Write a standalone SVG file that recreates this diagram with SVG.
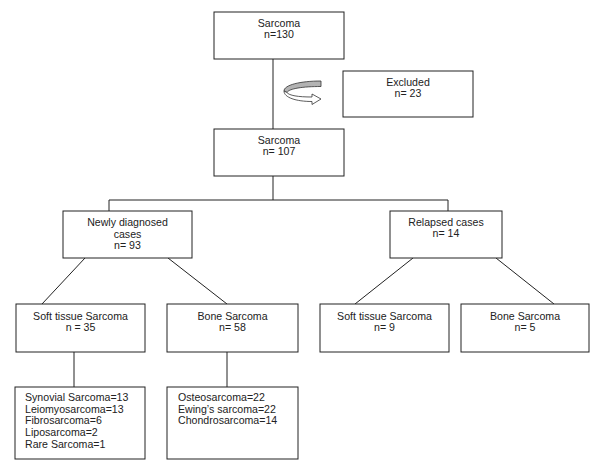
<svg xmlns="http://www.w3.org/2000/svg" width="600" height="470" viewBox="0 0 600 470">
<style>
.box{fill:#fff;stroke:#222;stroke-width:1}
.ln{fill:none;stroke:#222;stroke-width:1}
text{font-family:"Liberation Sans",Arial,sans-serif;font-size:10.6px;fill:#222}
.c{text-anchor:middle}
</style>
<rect width="600" height="470" fill="#fff"/>
<g id="connectors">
<line class="ln" x1="273" y1="59" x2="273" y2="129"/>
<line class="ln" x1="273" y1="176" x2="273" y2="200"/>
<polyline class="ln" points="109,211 109,200 448,200 448,211"/>
<line class="ln" x1="85" y1="258" x2="42" y2="304"/>
<line class="ln" x1="168" y1="258" x2="227" y2="304"/>
<line class="ln" x1="413" y1="258" x2="355" y2="304"/>
<line class="ln" x1="496" y1="258" x2="554" y2="304"/>
<line class="ln" x1="74" y1="352" x2="74" y2="387"/>
<line class="ln" x1="227" y1="352" x2="227" y2="387"/>
<g id="curved-arrow">
<path d="M321 81 C300 81 284 85 284 91 L287 92.5 C289 88.5 303 86.5 321 86.5 Z" fill="#b3b3b3" stroke="#333" stroke-width="0.8"/>
<path d="M284 91 C284 97.5 296 101.5 312 101.5 L312 104.5 L321 99 L312 94 L312 97 C298 97 289 95.5 287 92.5 Z" fill="#fff" stroke="#333" stroke-width="0.8"/>
</g>
</g>
<g id="n-sarcoma130"><rect class="box" x="214" y="12" width="130" height="47"/><text class="c" x="279" y="27.3">Sarcoma</text><text class="c" x="279" y="38.3">n=130</text></g>
<g id="n-excluded"><rect class="box" x="343" y="71" width="130" height="46"/><text class="c" x="408" y="86">Excluded</text><text class="c" x="408" y="97">n= 23</text></g>
<g id="n-sarcoma107"><rect class="box" x="214" y="129" width="130" height="47"/><text class="c" x="279" y="144">Sarcoma</text><text class="c" x="279" y="155">n= 107</text></g>
<g id="n-newly"><rect class="box" x="63" y="211" width="129" height="47"/><text class="c" x="127.5" y="226">Newly diagnosed</text><text class="c" x="127.5" y="237.7">cases</text><text class="c" x="127.5" y="249">n= 93</text></g>
<g id="n-relapsed"><rect class="box" x="390" y="211" width="112" height="47"/><text class="c" x="446" y="225.7">Relapsed cases</text><text class="c" x="446" y="236.7">n= 14</text></g>
<g id="n-soft35"><rect class="box" x="16" y="304" width="129" height="48"/><text class="c" x="80.5" y="320">Soft tissue Sarcoma</text><text class="c" x="80.5" y="330.7">n = 35</text></g>
<g id="n-bone58"><rect class="box" x="167" y="304" width="131" height="48"/><text class="c" x="232.5" y="320">Bone Sarcoma</text><text class="c" x="232.5" y="330.7">n= 58</text></g>
<g id="n-soft9"><rect class="box" x="320" y="304" width="129" height="48"/><text class="c" x="384.5" y="319.5">Soft tissue Sarcoma</text><text class="c" x="384.5" y="330.7">n= 9</text></g>
<g id="n-bone5"><rect class="box" x="461" y="304" width="128" height="48"/><text class="c" x="525" y="319.5">Bone Sarcoma</text><text class="c" x="525" y="330.7">n= 5</text></g>
<g id="n-softlist"><rect class="box" x="15" y="387" width="130" height="72"/>
<text x="25" y="400.7">Synovial Sarcoma=13</text><text x="25" y="412.5">Leiomyosarcoma=13</text><text x="25" y="424.3">Fibrosarcoma=6</text><text x="25" y="436.1">Liposarcoma=2</text><text x="25" y="447.9">Rare Sarcoma=1</text></g>
<g id="n-bonelist"><rect class="box" x="167" y="387" width="131" height="72"/>
<text x="178" y="400.7">Osteosarcoma=22</text><text x="178" y="412.5">Ewing’s sarcoma=22</text><text x="178" y="424.3">Chondrosarcoma=14</text></g>
</svg>
